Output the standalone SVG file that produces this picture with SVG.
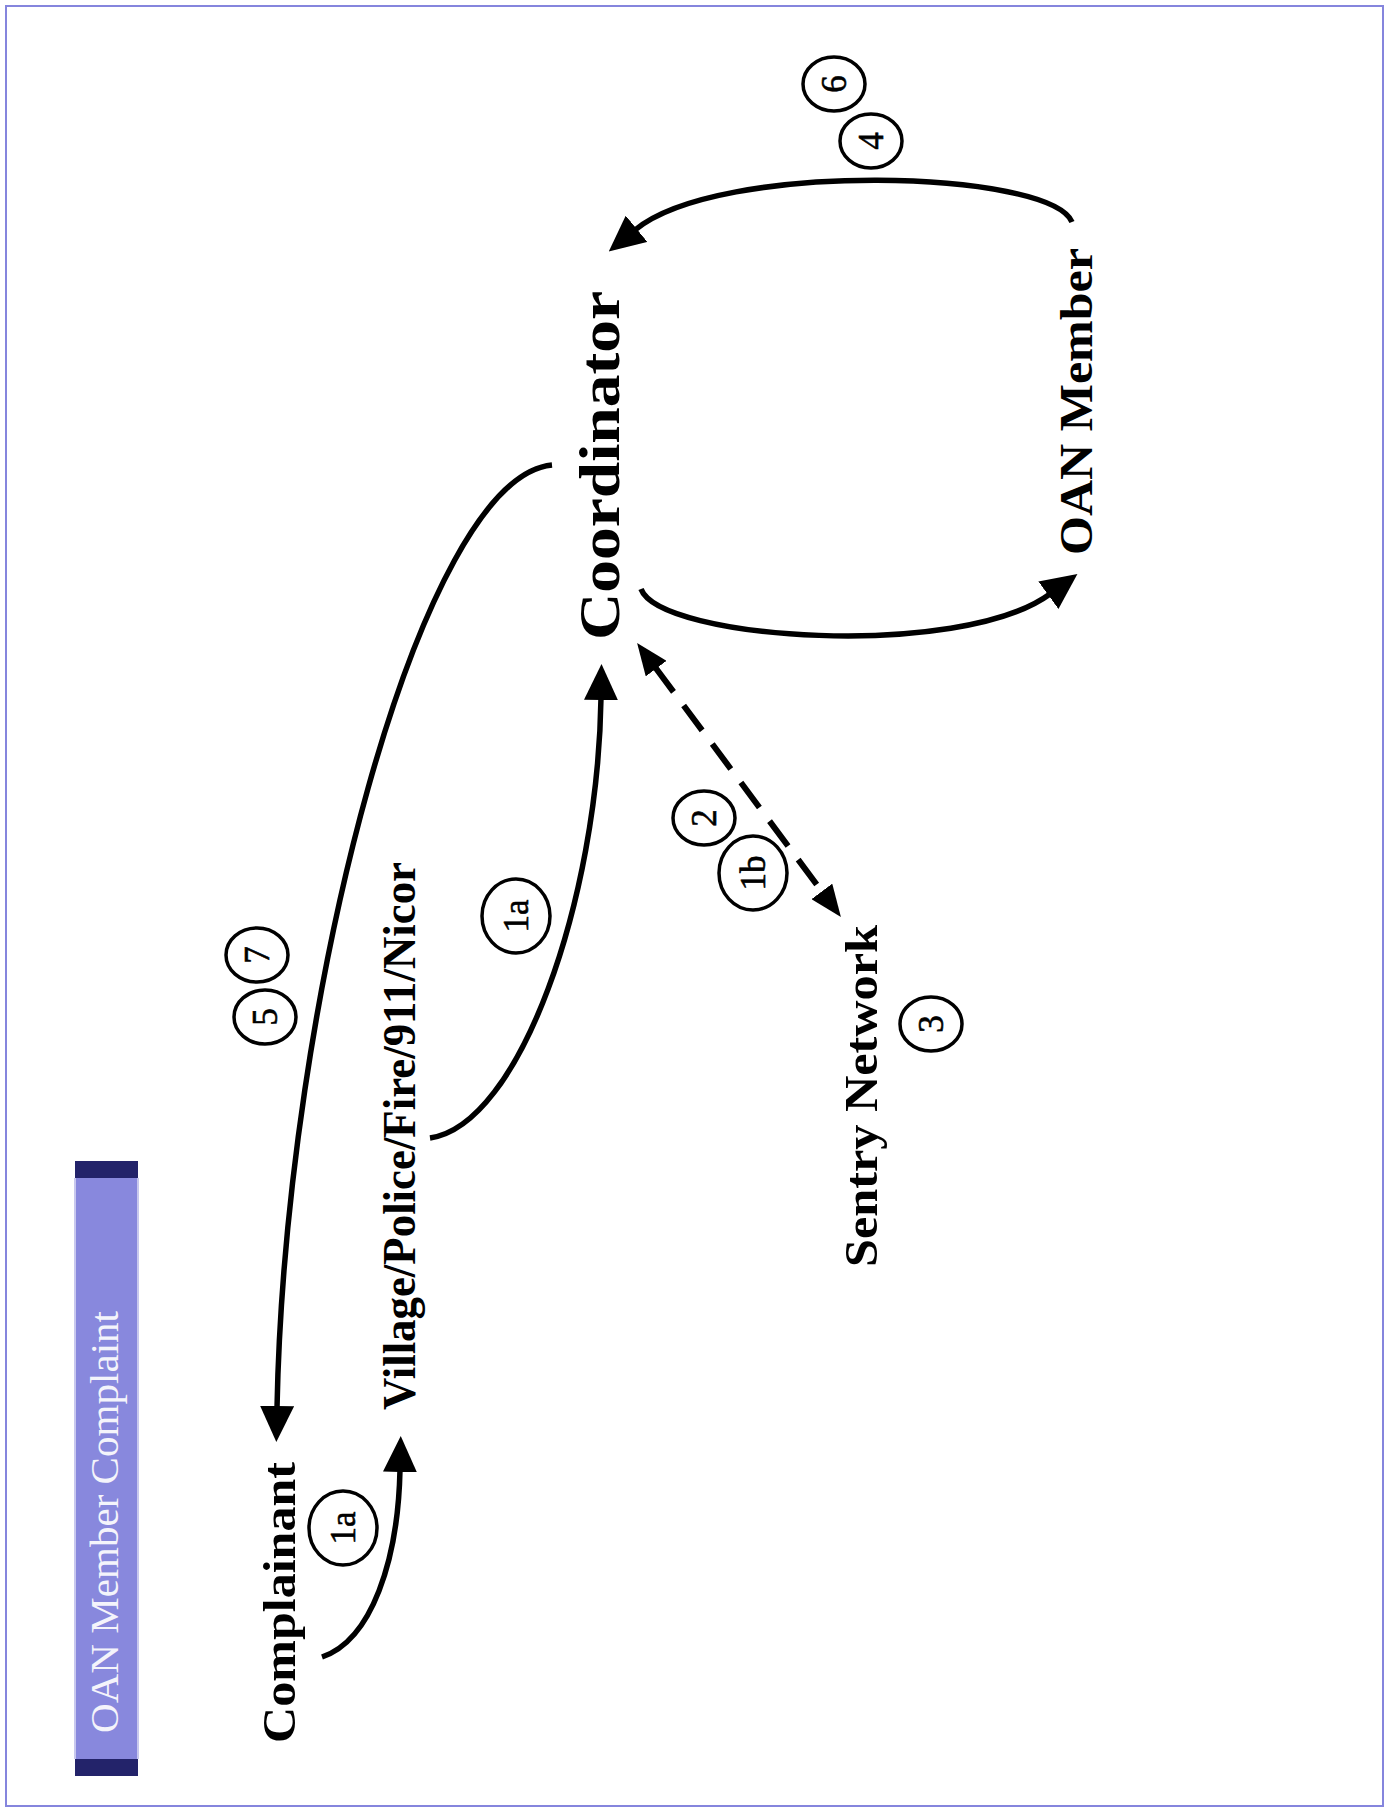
<svg xmlns="http://www.w3.org/2000/svg" width="1389" height="1812" viewBox="0 0 1389 1812">
  <defs>
    <style>
      .node { font-family: "Liberation Serif", "Times New Roman", serif; font-weight: bold; fill: #000; }
      .tag { font-family: "Liberation Serif", "Times New Roman", serif; font-size: 35px; fill: #000; stroke: #000; stroke-width: 0.6; text-anchor: middle; dominant-baseline: central; }
      .ring { fill: #fff; stroke: #000; stroke-width: 3.5; }
      .flow { fill: none; stroke: #000; stroke-width: 5.5; }
      .dash { fill: none; stroke: #000; stroke-width: 6; stroke-dasharray: 31 17; }
    </style>
    <marker id="head" markerUnits="userSpaceOnUse" viewBox="0 0 36 34" markerWidth="36" markerHeight="34" refX="2" refY="17" orient="auto-start-reverse">
      <path d="M0,0 L36,17 L0,34 z" fill="#000"/>
    </marker>
    <marker id="headSmall" markerUnits="userSpaceOnUse" viewBox="0 0 32 26" markerWidth="32" markerHeight="26" refX="2" refY="13" orient="auto-start-reverse">
      <path d="M0,0 L32,13 L0,26 z" fill="#000"/>
    </marker>
  </defs>

  <rect x="0" y="0" width="1389" height="1812" fill="#fff"/>
  <rect x="6" y="6" width="1377" height="1800" fill="none" stroke="#8585dd" stroke-width="2"/>

  <!-- title bar -->
  <g id="title">
    <rect x="75" y="1161" width="63" height="615" fill="#23236a"/>
    <rect x="74" y="1178" width="65" height="581" fill="#c8c8ee"/>
    <rect x="76" y="1178" width="61" height="581" fill="#8888dd"/>
    <text transform="translate(118,1733) rotate(-90)" font-family="Liberation Serif, Times New Roman, serif" font-size="40" fill="#f4f4fb" textLength="422" lengthAdjust="spacingAndGlyphs">OAN Member Complaint</text>
  </g>

  <!-- connectors -->
  <g id="connectors">
    <path class="flow" d="M552,465 C420,478 285,1000 277,1408" marker-end="url(#head)"/>
    <path class="flow" d="M430,1138 C520,1125 598,900 601,698" marker-end="url(#head)"/>
    <path class="flow" d="M322,1657 C372,1640 398,1560 400,1470" marker-end="url(#head)"/>
    <path class="flow" d="M641,589 C660,640 960,660 1050,594" marker-end="url(#head)"/>
    <path class="flow" d="M1072,222 C1050,170 720,160 635,230" marker-end="url(#head)"/>
    <path class="dash" d="M655,667 L823,893" marker-start="url(#headSmall)" marker-end="url(#headSmall)"/>
  </g>

  <!-- nodes -->
  <g id="complainant">
    <text class="node" transform="translate(295,1743) rotate(-90)" font-size="46" textLength="281" lengthAdjust="spacingAndGlyphs">Complainant</text>
  </g>
  <g id="village">
    <text class="node" transform="translate(415,1410) rotate(-90)" font-size="46" textLength="548" lengthAdjust="spacingAndGlyphs">Village/Police/Fire/911/Nicor</text>
  </g>
  <g id="coordinator">
    <text class="node" transform="translate(619,640) rotate(-90)" font-size="58" textLength="349" lengthAdjust="spacingAndGlyphs">Coordinator</text>
  </g>
  <g id="oan-member">
    <text class="node" transform="translate(1092,555) rotate(-90)" font-size="46" textLength="307" lengthAdjust="spacingAndGlyphs">OAN Member</text>
  </g>
  <g id="sentry-network">
    <text class="node" transform="translate(877,1267) rotate(-90)" font-size="46" textLength="342" lengthAdjust="spacingAndGlyphs">Sentry Network</text>
  </g>

  <!-- step markers -->
  <g id="step-6"><ellipse class="ring" cx="834" cy="84" rx="31" ry="27"/><text class="tag" transform="translate(834,84) rotate(-90)">6</text></g>
  <g id="step-4"><ellipse class="ring" cx="871" cy="141" rx="31" ry="27"/><text class="tag" transform="translate(871,141) rotate(-90)">4</text></g>
  <g id="step-2"><ellipse class="ring" cx="704" cy="818" rx="31" ry="27"/><text class="tag" transform="translate(704,818) rotate(-90)">2</text></g>
  <g id="step-1b"><ellipse class="ring" cx="753" cy="873" rx="34" ry="37"/><text class="tag" transform="translate(753,873) rotate(-90)">1b</text></g>
  <g id="step-1a-upper"><ellipse class="ring" cx="516" cy="916" rx="34" ry="37"/><text class="tag" transform="translate(516,916) rotate(-90)">1a</text></g>
  <g id="step-7"><ellipse class="ring" cx="257" cy="955" rx="31" ry="27"/><text class="tag" transform="translate(257,955) rotate(-90)">7</text></g>
  <g id="step-5"><ellipse class="ring" cx="265" cy="1017" rx="31" ry="27"/><text class="tag" transform="translate(265,1017) rotate(-90)">5</text></g>
  <g id="step-3"><ellipse class="ring" cx="931" cy="1024" rx="31" ry="27"/><text class="tag" transform="translate(931,1024) rotate(-90)">3</text></g>
  <g id="step-1a-lower"><ellipse class="ring" cx="343" cy="1528" rx="34" ry="37"/><text class="tag" transform="translate(343,1528) rotate(-90)">1a</text></g>
</svg>
